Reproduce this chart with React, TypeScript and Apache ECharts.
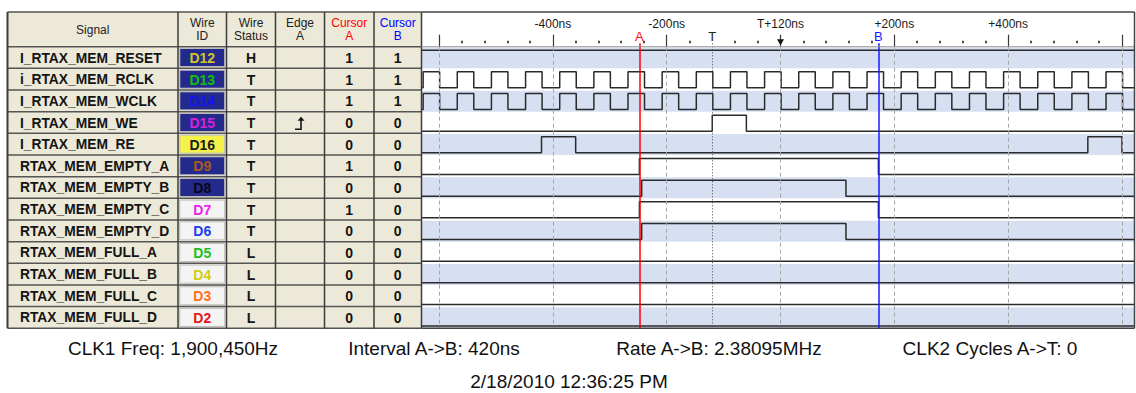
import React, { useEffect, useRef } from 'react';
import * as echarts from 'echarts';

// ---------- data ----------
const SIGNALS = [
  'I_RTAX_MEM_RESET', 'i_RTAX_MEM_RCLK', 'I_RTAX_MEM_WCLK', 'I_RTAX_MEM_WE', 'I_RTAX_MEM_RE',
  'RTAX_MEM_EMPTY_A', 'RTAX_MEM_EMPTY_B', 'RTAX_MEM_EMPTY_C', 'RTAX_MEM_EMPTY_D',
  'RTAX_MEM_FULL_A', 'RTAX_MEM_FULL_B', 'RTAX_MEM_FULL_C', 'RTAX_MEM_FULL_D',
];
const WIRE_IDS = ['D12', 'D13', 'D14', 'D15', 'D16', 'D9', 'D8', 'D7', 'D6', 'D5', 'D4', 'D3', 'D2'];
const WIRE_ID_FILL = ['#232a8c', '#232a8c', '#232a8c', '#232a8c', '#f2f24a', '#232a8c', '#232a8c',
  '#f4f4f4', '#f4f4f4', '#f4f4f4', '#f4f4f4', '#f4f4f4', '#f4f4f4'];
const WIRE_ID_TEXT = ['#cfc626', '#10c010', '#1414f0', '#d424d4', '#1a1a1a', '#a85a18', '#080818',
  '#f020f0', '#2040f0', '#20c020', '#d4cc10', '#ff7020', '#e01818'];
const WIRE_STATUS = ['H', 'T', 'T', 'T', 'T', 'T', 'T', 'T', 'T', 'L', 'L', 'L', 'L'];
const EDGE_A = ['', '', '', 'rise', '', '', '', '', '', '', '', '', ''];
const CURSOR_A_VALUES = [1, 1, 1, 0, 0, 1, 0, 1, 0, 0, 0, 0, 0];
const CURSOR_B_VALUES = [1, 1, 1, 0, 0, 0, 0, 0, 0, 0, 0, 0, 0];

const HEADERS = ['Signal', 'Wire\nID', 'Wire\nStatus', 'Edge\nA', 'Cursor\nA', 'Cursor\nB'];
const HEADER_COLORS = ['#222', '#222', '#222', '#222', '#ff0000', '#0000ff'];

// clock toggle times (ns)
const CLOCK_TOGGLES = [
  -628, -599, -568, -539, -508, -479, -448, -419, -388, -359, -328, -299, -268, -239,
  -208, -179, -148, -119, -88, -59, -28, 1, 32, 61, 92, 121, 152, 181, 212, 241,
  272, 301, 332, 361, 392, 421, 452, 481, 512, 541, 572, 601,
];
const INITIAL_LEVEL = [1, 0, 0, 0, 0, 0, 0, 0, 0, 0, 0, 0, 0];
const TOGGLES: number[][] = [
  [], CLOCK_TOGGLES, CLOCK_TOGGLES, [-120, -60], [-420, -360, 540, 600],
  [-248, 172], [-244, 115], [-248, 172], [-244, 115], [], [], [], [],
];

const TIME_MIN = -630;
const TIME_MAX = 622;
const MAJOR_TICKS = [-600, -400, -200, 0, 200, 400, 600];
const MINOR_TICKS = [-560, -520, -480, -440, -360, -320, -280, -240, -160, -80, -40,
  40, 80, 120, 160, 240, 280, 320, 360, 440, 480, 520, 560];
const RULER_VALUES = [-400, -200, 0, 200, 400];
const RULER_LABELS = ['-400ns', '-200ns', 'T+120ns', '+200ns', '+400ns'];
const CURSOR_A = -248;
const CURSOR_B = 172;
const TRIGGER = -120;
const REFERENCE = 0;

const FOOTER = ['CLK1 Freq: 1,900,450Hz', 'Interval A->B: 420ns', 'Rate A->B: 2.38095MHz', 'CLK2 Cycles A->T: 0'];
const TIMESTAMP = '2/18/2010 12:36:25 PM';

// ---------- layout ----------
const COLS = [7.5, 178, 226.5, 275.5, 324.5, 374, 421.5];
const HEADER_TOP = 12;
const ROW_TOP0 = 46.7;
const ROW_H = 21.66;
const N = SIGNALS.length;
const rowY = (i: number) => ROW_TOP0 + i * ROW_H;
const TABLE_BOTTOM = rowY(N);
const GRID_TOP = 43.3;
const Y_MIN = (GRID_TOP - ROW_TOP0) / ROW_H;
const PANE_RIGHT = 1134.5;
const HIGH_OFF = 0.16;
const LOW_OFF = 0.9;

function waveData(row: number) {
  let lvl = INITIAL_LEVEL[row];
  const y = (l: number) => row + (l ? HIGH_OFF : LOW_OFF);
  const pts: number[][] = [[TIME_MIN, y(lvl)]];
  for (const t of TOGGLES[row]) {
    pts.push([t, y(lvl)]);
    lvl = 1 - lvl;
    pts.push([t, y(lvl)]);
  }
  pts.push([TIME_MAX, y(lvl)]);
  return pts;
}

function buildGraphic() {
  const els: any[] = [];
  const border = '#555';
  els.push({ type: 'rect', shape: { x: COLS[0], y: HEADER_TOP, width: COLS[6] - COLS[0], height: TABLE_BOTTOM - HEADER_TOP }, style: { fill: '#ece9d8' } });
  HEADERS.forEach((h, c) => {
    els.push({
      type: 'text', x: (COLS[c] + COLS[c + 1]) / 2, y: 29.5,
      style: { text: h, fill: HEADER_COLORS[c], font: '12px "Liberation Sans"', align: 'center', verticalAlign: 'middle', lineHeight: 13 },
    });
  });
  const bold = (s: number) => `bold ${s}px "Liberation Sans"`;
  SIGNALS.forEach((name, i) => {
    const cy = rowY(i) + ROW_H / 2 + 0.5;
    els.push({ type: 'text', x: 20, y: cy, style: { text: name, fill: '#141414', font: bold(13.8), align: 'left', verticalAlign: 'middle' } });
    els.push({
      type: 'rect', shape: { x: COLS[1] + 1.8, y: rowY(i) + 1.8, width: COLS[2] - COLS[1] - 3.6, height: ROW_H - 3.6 },
      style: { fill: WIRE_ID_FILL[i], stroke: '#bdbdbd', lineWidth: 1 },
    });
    els.push({ type: 'text', x: (COLS[1] + COLS[2]) / 2, y: cy, style: { text: WIRE_IDS[i], fill: WIRE_ID_TEXT[i], font: bold(14), align: 'center', verticalAlign: 'middle' } });
    els.push({ type: 'text', x: (COLS[2] + COLS[3]) / 2, y: cy, style: { text: WIRE_STATUS[i], fill: '#141414', font: bold(14), align: 'center', verticalAlign: 'middle' } });
    if (EDGE_A[i] === 'rise') {
      const ex = (COLS[3] + COLS[4]) / 2 + 1;
      const top = rowY(i) + 5;
      const bot = rowY(i) + 17.5;
      els.push({ type: 'polyline', shape: { points: [[ex - 6, bot], [ex, bot], [ex, top + 3]] }, style: { stroke: '#141414', lineWidth: 1.6, fill: null } });
      els.push({ type: 'polygon', shape: { points: [[ex - 3.5, top + 4], [ex + 3.5, top + 4], [ex, top]] }, style: { fill: '#141414' } });
    }
    els.push({ type: 'text', x: (COLS[4] + COLS[5]) / 2, y: cy, style: { text: String(CURSOR_A_VALUES[i]), fill: '#141414', font: bold(14), align: 'center', verticalAlign: 'middle' } });
    els.push({ type: 'text', x: (COLS[5] + COLS[6]) / 2, y: cy, style: { text: String(CURSOR_B_VALUES[i]), fill: '#141414', font: bold(14), align: 'center', verticalAlign: 'middle' } });
  });
  const hs = [HEADER_TOP, ...SIGNALS.map((_, i) => rowY(i)), TABLE_BOTTOM];
  hs.forEach((y) => els.push({ type: 'line', shape: { x1: COLS[0], y1: y, x2: COLS[6], y2: y }, style: { stroke: border, lineWidth: 1.5 }, z: 20 }));
  COLS.forEach((x, c) => els.push({ type: 'line', shape: { x1: x, y1: HEADER_TOP, x2: x, y2: TABLE_BOTTOM }, style: { stroke: '#3c3c3c', lineWidth: c === 0 ? 2 : 1.5 }, z: 20 }));
  els.push({ type: 'line', shape: { x1: COLS[6], y1: HEADER_TOP, x2: PANE_RIGHT, y2: HEADER_TOP }, style: { stroke: '#444', lineWidth: 1.5 }, z: 20 });
  els.push({ type: 'line', shape: { x1: COLS[6], y1: ROW_TOP0, x2: PANE_RIGHT, y2: ROW_TOP0 }, style: { stroke: '#9a9a9a', lineWidth: 1 }, z: 20 });
  els.push({ type: 'line', shape: { x1: PANE_RIGHT, y1: HEADER_TOP, x2: PANE_RIGHT, y2: TABLE_BOTTOM }, style: { stroke: '#444', lineWidth: 1.5 }, z: 20 });
  els.push({ type: 'line', shape: { x1: COLS[6], y1: TABLE_BOTTOM, x2: PANE_RIGHT, y2: TABLE_BOTTOM }, style: { stroke: '#444', lineWidth: 1.5 }, z: 20 });
  const fx = [173, 434, 719, 990];
  FOOTER.forEach((t, k) => els.push({ type: 'text', x: fx[k], y: 348, style: { text: t, fill: '#111', font: '19px "Liberation Sans"', align: 'center', verticalAlign: 'middle' } }));
  els.push({ type: 'text', x: 569, y: 381, style: { text: TIMESTAMP, fill: '#111', font: '19px "Liberation Sans"', align: 'center', verticalAlign: 'middle' } });
  return els;
}

function buildOption(): any {
  const bandRows = SIGNALS.map((_, i) => i).filter((i) => i % 2 === 0);
  const series: any[] = [
    {
      type: 'line', name: 'bands', data: [], z: 1, silent: true,
      markArea: {
        silent: true,
        itemStyle: { color: '#d6e0f2' },
        data: bandRows.map((i) => [{ yAxis: i + 0.03 }, { yAxis: i + 1 }]),
      },
    },
    {
      type: 'line', name: 'grid', data: [], z: 2, silent: true,
      markLine: {
        silent: true, symbol: ['none', 'none'], label: { show: false },
        lineStyle: { color: '#a6a6a6', width: 1, type: [4, 3] },
        data: MAJOR_TICKS.map((v) => [{ coord: [v, 0] }, { coord: [v, N] }]),
      },
    },
    ...SIGNALS.map((name, i) => ({
      type: 'line', name, data: waveData(i), z: 3, showSymbol: false, symbol: 'none',
      lineStyle: { color: '#2a2a2a', width: 1.5 }, silent: true,
    })),
    {
      type: 'line', name: 'cursors', data: [], z: 5, silent: true,
      markLine: {
        silent: true, symbol: ['none', 'none'],
        label: { show: true, position: 'start', distance: 1 },
        data: [
          [
            { coord: [TRIGGER, Y_MIN], lineStyle: { color: '#4a4a4a', width: 1, type: [1, 2] }, label: { show: true, formatter: 'T', position: 'start', distance: 0, color: '#222', fontSize: 13, fontFamily: 'Liberation Sans' } },
            { coord: [TRIGGER, N] },
          ],
          [
            { coord: [CURSOR_A, Y_MIN], lineStyle: { color: '#ff0000', width: 1.5, type: 'solid', opacity: 1 }, label: { show: true, formatter: 'A', position: 'start', distance: 0, color: '#ff1010', fontSize: 13, fontFamily: 'Liberation Sans' } },
            { coord: [CURSOR_A, N] },
          ],
          [
            { coord: [CURSOR_B, Y_MIN], lineStyle: { color: '#1a1aff', width: 1.5, type: 'solid', opacity: 1 }, label: { show: true, formatter: 'B', position: 'start', distance: 0, color: '#1a1aff', fontSize: 13, fontFamily: 'Liberation Sans' } },
            { coord: [CURSOR_B, N] },
          ],
        ],
      },
      markPoint: {
        silent: true,
        label: { show: false },
        data: [
          { coord: [REFERENCE, Y_MIN], symbol: 'triangle', symbolSize: [7, 6], symbolRotate: 180, symbolOffset: [0, -1], itemStyle: { color: '#111' } },
        ],
      },
    },
  ];

  return {
    animation: false,
    backgroundColor: '#ffffff',
    grid: { left: COLS[6] + 0.5, right: 1136 - PANE_RIGHT, top: GRID_TOP, bottom: 393 - TABLE_BOTTOM, containLabel: false },
    xAxis: [
      {
        type: 'value', min: TIME_MIN, max: TIME_MAX, position: 'top',
        axisLine: { show: false }, splitLine: { show: false },
        axisTick: { show: true, customValues: MAJOR_TICKS, length: 12, lineStyle: { color: '#3a3a3a', width: 1.2 } },
        axisLabel: {
          show: true, customValues: RULER_VALUES, margin: 13, color: '#1a1a1a', fontSize: 12, fontFamily: 'Liberation Sans',
          formatter: (v: number) => { const k = RULER_VALUES.indexOf(v); return k >= 0 ? RULER_LABELS[k] : ''; },
        },
      },
      {
        type: 'value', min: TIME_MIN, max: TIME_MAX, position: 'top',
        axisLine: { show: false }, splitLine: { show: false }, axisLabel: { show: false },
        axisTick: { show: true, customValues: MINOR_TICKS, length: 2.5, lineStyle: { color: '#222', width: 1.6 } },
      },
    ],
    yAxis: { type: 'value', min: Y_MIN, max: N, inverse: true, show: false },
    series,
    graphic: { elements: buildGraphic() },
  };
}

export default function App() {
  const ref = useRef<HTMLDivElement>(null);
  useEffect(() => {
    const chart = echarts.init(ref.current!, null, { renderer: 'svg' });
    chart.setOption(buildOption());
    return () => chart.dispose();
  }, []);
  return <div ref={ref} style={{ position: 'fixed', left: 0, top: 0, width: 1136, height: 393, background: '#fff' }} />;
}
